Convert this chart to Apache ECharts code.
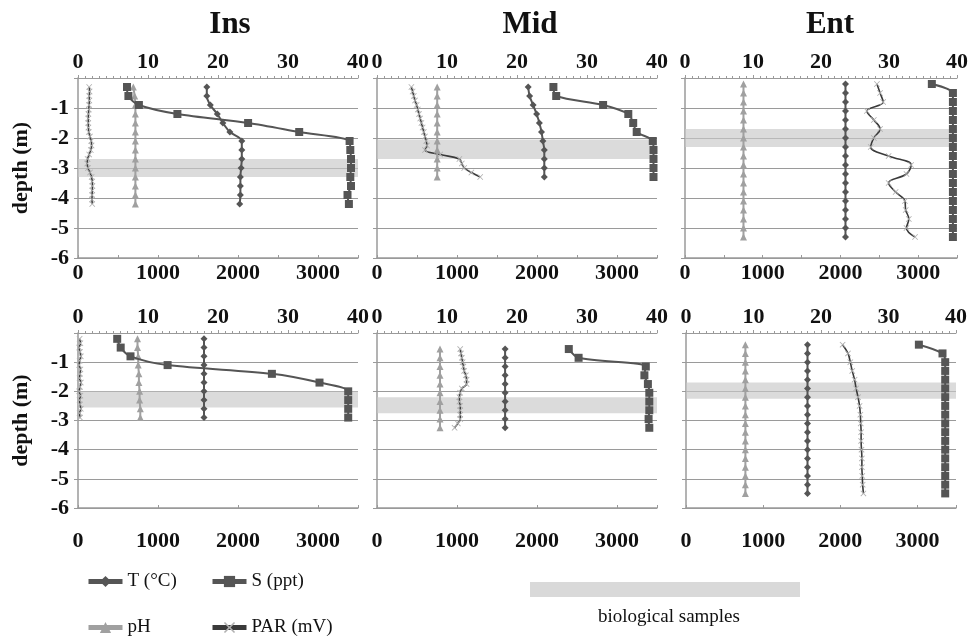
<!DOCTYPE html>
<html><head><meta charset="utf-8">
<script src="https://cdn.jsdelivr.net/npm/echarts@6/dist/echarts.min.js"></script>
<style>html,body{margin:0;padding:0;background:#fff}#c{width:971px;height:641px}</style>
</head><body><div id="c"></div>
<script>
// ---------- data ----------
const panelTitles = ['Ins', 'Mid', 'Ent'];
const topTicks = [0, 10, 20, 30, 40];
const bottomTicks = [0, 1000, 2000, 3000];
const depthTicks = [-1, -2, -3, -4, -5, -6];

// Ins, upper row
const insTopDepth = [-0.3,-0.6,-0.9,-1.2,-1.5,-1.8,-2.1,-2.4,-2.7,-3.0,-3.3,-3.6,-3.9,-4.2];
const insTopT  = [18.4,18.4,18.9,19.9,20.7,21.7,23.4,23.4,23.4,23.3,23.2,23.2,23.2,23.1];
const insTopS  = [7.0,7.2,8.7,14.2,24.3,31.6,38.8,38.9,39.0,39.0,38.9,39.0,38.5,38.7];
const insTopPH = [7.9,8.1,8.2,8.2,8.2,8.2,8.2,8.2,8.2,8.2,8.2,8.2,8.2,8.2];
const insTopParDepth = [-0.3,-0.45,-0.6,-0.75,-0.9,-1.05,-1.2,-1.35,-1.5,-1.65,-1.8,-1.95,-2.1,-2.25,-2.4,-2.55,-2.7,-2.85,-3.0,-3.15,-3.3,-3.45,-3.6,-3.75,-3.9,-4.05,-4.2];
const insTopPAR = [140,145,140,142,138,135,130,128,128,130,135,150,165,170,160,140,120,115,125,150,170,178,180,178,176,175,178];
const insTopBand = [-2.7, -3.3];

// Mid, upper row
const midTopDepth = [-0.3,-0.6,-0.9,-1.2,-1.5,-1.8,-2.1,-2.4,-2.7,-3.0,-3.3];
const midTopT  = [21.6,21.8,22.3,22.8,23.2,23.5,23.7,23.9,23.9,23.9,23.9];
const midTopS  = [25.2,25.6,32.3,35.9,36.6,37.1,39.4,39.5,39.5,39.5,39.5];
const midTopPH = [8.6,8.6,8.6,8.6,8.6,8.6,8.6,8.6,8.6,8.6,8.6];
const midTopParDepth = [-0.3,-0.45,-0.6,-0.75,-0.9,-1.05,-1.2,-1.35,-1.5,-1.65,-1.8,-1.95,-2.1,-2.25,-2.4,-2.55,-2.7,-2.85,-3.0,-3.15,-3.3];
const midTopPAR = [430,445,460,475,495,510,525,540,555,570,585,600,615,625,600,790,1030,1060,1090,1180,1290];
const midTopBand = [-2.05, -2.7];

// Ent, upper row
const entTopDepth = [-0.2,-0.5,-0.8,-1.1,-1.4,-1.7,-2.0,-2.3,-2.6,-2.9,-3.2,-3.5,-3.8,-4.1,-4.4,-4.7,-5.0,-5.3];
const entTopT  = [23.6,23.6,23.6,23.6,23.6,23.6,23.6,23.6,23.6,23.6,23.6,23.6,23.6,23.6,23.6,23.6,23.6,23.6];
const entTopS  = [36.3,39.4,39.4,39.4,39.4,39.4,39.4,39.4,39.4,39.4,39.4,39.4,39.4,39.4,39.4,39.4,39.4,39.4];
const entTopPH = [8.6,8.6,8.6,8.6,8.6,8.6,8.6,8.6,8.6,8.6,8.6,8.6,8.6,8.6,8.6,8.6,8.6,8.6];
const entTopParDepth = entTopDepth;
const entTopPAR = [2470,2510,2550,2340,2430,2510,2430,2390,2620,2910,2850,2620,2710,2830,2840,2880,2850,2960];
const entTopBand = [-1.7, -2.3];

// Ins, lower row
const insBotDepth = [-0.2,-0.5,-0.8,-1.1,-1.4,-1.7,-2.0,-2.3,-2.6,-2.9];
const insBotT  = [18.0,18.0,18.0,18.0,18.0,18.0,18.0,18.0,18.0,18.0];
const insBotS  = [5.6,6.1,7.5,12.8,27.7,34.5,38.6,38.6,38.6,38.6];
const insBotPH = [8.5,8.5,8.6,8.6,8.7,8.7,8.8,8.8,8.9,8.9];
const insBotParDepth = [-0.2,-0.35,-0.5,-0.65,-0.8,-0.95,-1.1,-1.25,-1.4,-1.55,-1.7,-1.85,-2.0,-2.15,-2.3,-2.45,-2.6,-2.75,-2.9];
const insBotPAR = [20,30,15,25,35,20,15,30,25,20,35,25,15,30,20,25,35,20,25];
const insBotBand = [-2.0, -2.55];

// Mid, lower row
const midBotDepth = [-0.55,-0.85,-1.15,-1.45,-1.75,-2.05,-2.35,-2.65,-2.95,-3.25];
const midBotT  = [18.3,18.3,18.3,18.3,18.3,18.3,18.3,18.3,18.3,18.3];
const midBotS  = [27.4,28.8,38.4,38.2,38.7,38.9,38.9,38.9,38.8,38.9];
const midBotPH = [9.0,9.0,9.0,9.0,9.0,9.0,9.0,9.0,9.0,9.0];
const midBotParDepth = [-0.55,-0.7,-0.85,-1.0,-1.15,-1.3,-1.45,-1.6,-1.75,-1.9,-2.05,-2.2,-2.35,-2.5,-2.65,-2.8,-2.95,-3.1,-3.25];
const midBotPAR = [1040,1050,1060,1070,1080,1090,1110,1120,1120,1060,1040,1030,1030,1040,1040,1040,1040,1010,970];
const midBotBand = [-2.2, -2.75];

// Ent, lower row
const entBotDepth = [-0.4,-0.7,-1.0,-1.3,-1.6,-1.9,-2.2,-2.5,-2.8,-3.1,-3.4,-3.7,-4.0,-4.3,-4.6,-4.9,-5.2,-5.5];
const entBotT  = [18.0,18.0,18.0,18.0,18.0,18.0,18.0,18.0,18.0,18.0,18.0,18.0,18.0,18.0,18.0,18.0,18.0,18.0];
const entBotS  = [34.5,38.0,38.4,38.4,38.4,38.4,38.4,38.4,38.4,38.4,38.4,38.4,38.4,38.4,38.4,38.4,38.4,38.4];
const entBotPH = [8.8,8.8,8.8,8.8,8.8,8.8,8.8,8.8,8.8,8.8,8.8,8.8,8.8,8.8,8.8,8.8,8.8,8.8];
const entBotParDepth = entBotDepth;
const entBotPAR = [2030,2100,2130,2155,2185,2205,2230,2250,2260,2265,2270,2270,2275,2280,2280,2285,2290,2300];
const entBotBand = [-1.7, -2.25];

const seriesNames = ['T (°C)', 'S (ppt)', 'pH', 'PAR (mV)'];
const bandLabel = 'biological samples';

// ---------- layout ----------
const FONT = 'Liberation Serif, Times New Roman, serif';
const panels = [
  {grid:{left:78, top:78, width:280, height:180}, depth:insTopDepth, T:insTopT, S:insTopS, PH:insTopPH, parDepth:insTopParDepth, PAR:insTopPAR, band:insTopBand, row:0, col:0},
  {grid:{left:377, top:78, width:280, height:180}, depth:midTopDepth, T:midTopT, S:midTopS, PH:midTopPH, parDepth:midTopParDepth, PAR:midTopPAR, band:midTopBand, row:0, col:1},
  {grid:{left:685, top:78, width:273, height:180}, depth:entTopDepth, T:entTopT, S:entTopS, PH:entTopPH, parDepth:entTopParDepth, PAR:entTopPAR, band:entTopBand, row:0, col:2},
  {grid:{left:78, top:333, width:280, height:175}, depth:insBotDepth, T:insBotT, S:insBotS, PH:insBotPH, parDepth:insBotParDepth, PAR:insBotPAR, band:insBotBand, row:1, col:0},
  {grid:{left:377, top:333, width:280, height:175}, depth:midBotDepth, T:midBotT, S:midBotS, PH:midBotPH, parDepth:midBotParDepth, PAR:midBotPAR, band:midBotBand, row:1, col:1},
  {grid:{left:686, top:333, width:270, height:175}, depth:entBotDepth, T:entBotT, S:entBotS, PH:entBotPH, parDepth:entBotParDepth, PAR:entBotPAR, band:entBotBand, row:1, col:2}
];

const AXIS = '#9a9a9a';
const DARK = '#555555';
const LIGHT = '#a0a0a0';
const XSYM = 'path://M0,1L1,0L5,4L9,0L10,1L6,5L10,9L9,10L5,6L1,10L0,9L4,5Z';
const zip = (xs, ys) => xs.map((v, i) => [v, ys[i]]);
const labelStyle = {fontFamily: FONT, fontSize: 22, fontWeight: 'bold', color: '#111'};

const grids = [], xAxes = [], yAxes = [], series = [];
panels.forEach((p, i) => {
  grids.push(Object.assign({containLabel: false}, p.grid));
  // top axis (T, S, pH)
  xAxes.push({
    type: 'value', gridIndex: i, position: 'top', min: 0, max: 40, interval: 10,
    axisLine: {show: true, lineStyle: {color: AXIS, width: 1}},
    axisTick: {show: true, length: 3, lineStyle: {color: AXIS}},
    minorTick: {show: true, splitNumber: 10, length: 2, lineStyle: {color: AXIS}},
    splitLine: {show: false},
    axisLabel: Object.assign({margin: 5, formatter: v => topTicks.includes(v) ? String(v) : ''}, labelStyle)
  });
  // bottom axis (PAR)
  xAxes.push({
    type: 'value', gridIndex: i, position: 'bottom', min: 0, max: 3500,
    interval: p.row === 0 ? 500 : 1000,
    axisLine: {show: true, lineStyle: {color: AXIS, width: 1.5}},
    axisTick: {show: true, length: 3, inside: true, lineStyle: {color: AXIS}},
    splitLine: {show: false},
    axisLabel: Object.assign({margin: p.row === 0 ? 4 : 22, formatter: v => bottomTicks.includes(v) ? String(v) : ''}, labelStyle)
  });
  yAxes.push({
    type: 'value', gridIndex: i, min: -6, max: 0, interval: 1,
    name: p.col === 0 ? 'depth (m)' : '', nameLocation: 'middle', nameRotate: 90, nameGap: 46,
    nameTextStyle: {fontFamily: FONT, fontSize: 22, fontWeight: 'bold', color: '#111'},
    axisLine: {show: true, onZero: false, lineStyle: {color: AXIS, width: 1.5}},
    axisTick: {show: true, length: 4, lineStyle: {color: AXIS}},
    splitLine: {show: true, lineStyle: {color: AXIS, width: 1.2}},
    axisLabel: Object.assign({show: p.col === 0, margin: 9, formatter: v => depthTicks.includes(v) ? String(v) : ''}, labelStyle)
  });
  const topX = 2 * i, botX = 2 * i + 1;
  series.push({
    name: seriesNames[3], type: 'line', xAxisIndex: botX, yAxisIndex: i,
    data: zip(p.PAR, p.parDepth), smooth: 0.4,
    symbol: XSYM, symbolSize: 6, itemStyle: {color: '#b0b0b0'},
    lineStyle: {color: '#3a3a3a', width: 1.6}, z: 3, animation: false,
    markArea: {silent: true, itemStyle: {color: 'rgba(200,200,200,0.65)'},
      data: [[{yAxis: p.band[0]}, {yAxis: p.band[1]}]]}
  });
  series.push({
    name: seriesNames[2], type: 'line', xAxisIndex: topX, yAxisIndex: i,
    data: zip(p.PH, p.depth), symbol: 'triangle', symbolSize: 7,
    itemStyle: {color: LIGHT}, lineStyle: {color: LIGHT, width: 2}, z: 4, animation: false
  });
  series.push({
    name: seriesNames[0], type: 'line', xAxisIndex: topX, yAxisIndex: i,
    data: zip(p.T, p.depth), symbol: 'diamond', symbolSize: 7, smooth: 0.3,
    itemStyle: {color: DARK}, lineStyle: {color: DARK, width: 2}, z: 5, animation: false
  });
  series.push({
    name: seriesNames[1], type: 'line', xAxisIndex: topX, yAxisIndex: i,
    data: zip(p.S, p.depth), symbol: 'rect', symbolSize: 8, smooth: 0.3,
    itemStyle: {color: DARK}, lineStyle: {color: DARK, width: 2}, z: 6, animation: false
  });
});

const legendSpots = [
  {name: seriesNames[0], left: 86, top: 572},
  {name: seriesNames[1], left: 210, top: 572},
  {name: seriesNames[2], left: 86, top: 618},
  {name: seriesNames[3], left: 210, top: 618}
];

const titleX = [225, 525, 825];
const option = {
  animation: false,
  backgroundColor: '#fff',
  title: panelTitles.map((t, k) => ({
    text: t, left: titleX[k], top: 4, textAlign: 'center',
    textStyle: {fontFamily: FONT, fontSize: 31, fontWeight: 'bold', color: '#111'}
  })),
  grid: grids, xAxis: xAxes, yAxis: yAxes, series: series,
  legend: legendSpots.map(s => ({
    data: [s.name], left: s.left, top: s.top, itemWidth: 34, itemHeight: 14,
    selectedMode: false, padding: 0, itemGap: 0,
    lineStyle: {width: 5}, textStyle: {fontFamily: FONT, fontSize: 19, color: '#111'}
  })),
  graphic: [
    {type: 'rect', left: 530, top: 582, shape: {width: 270, height: 15}, style: {fill: '#d9d9d9'}},
    {type: 'text', left: 598, top: 608, style: {text: bandLabel, font: '19px ' + FONT, fill: '#111'}}
  ]
};
const chart = echarts.init(document.getElementById('c'), null, {renderer: 'canvas'});
chart.setOption(option);
</script></body></html>
